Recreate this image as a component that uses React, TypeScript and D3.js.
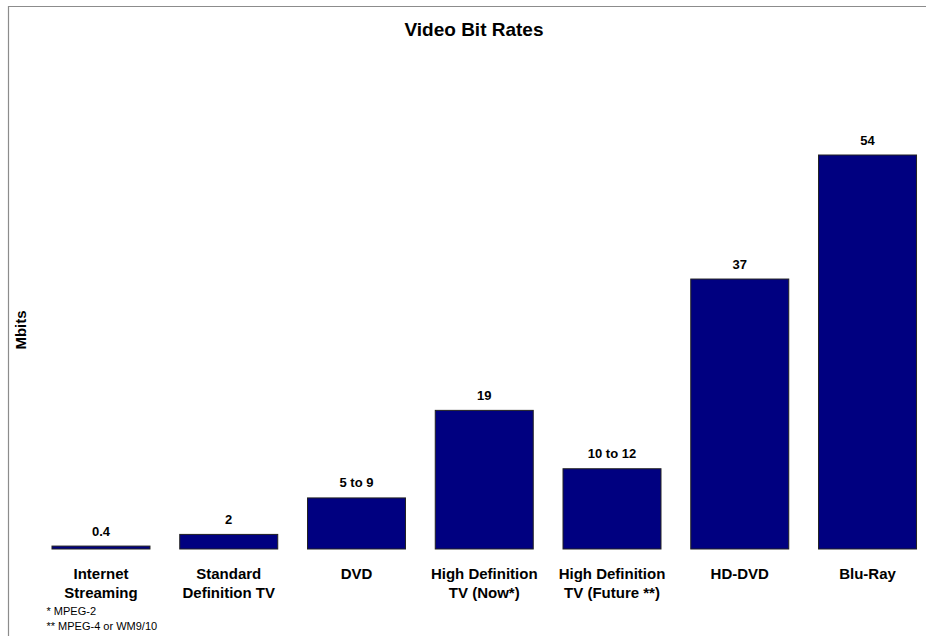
import React from "react";
import * as d3 from "d3";

const categories: string[][] = [
  ["Internet", "Streaming"],
  ["Standard", "Definition TV"],
  ["DVD"],
  ["High Definition", "TV (Now*)"],
  ["High Definition", "TV (Future **)"],
  ["HD-DVD"],
  ["Blu-Ray"],
];
const values: number[] = [0.4, 2, 7, 19, 11, 37, 54];
const valueLabels: string[] = ["0.4", "2", "5 to 9", "19", "10 to 12", "37", "54"];
const footnotes: string[] = ["* MPEG-2", "** MPEG-4 or WM9/10"];
const title = "Video Bit Rates";
const yTitle = "Mbits";

const W = 926;
const H = 636;
const FONT = "'Liberation Sans', Arial, Helvetica, sans-serif";

export default function App() {
  const ids = categories.map((_, i) => String(i));
  const x = d3
    .scaleBand<string>()
    .domain(ids)
    .range([37.3, 931.2])
    .paddingInner(0.233)
    .paddingOuter(0.115);
  const y = d3.scaleLinear().domain([0, 54]).range([549, 155]);

  return (
    <svg
      width={W}
      height={H}
      style={{ position: "absolute", left: 0, top: 0, background: "#fff" }}
      fontFamily={FONT}
    >
      <rect x={0} y={0} width={W} height={H} fill="#fff" />
      <path d={`M8.5,${H} V6.5 H${W}`} fill="none" stroke="#8c8c8c" strokeWidth={1.2} />
      <text x={474} y={36} textAnchor="middle" fontSize={19} fontWeight="bold" fill="#000">
        {title}
      </text>
      <text
        transform={`translate(26,330) rotate(-90)`}
        textAnchor="middle"
        fontSize={15}
        fontWeight="bold"
        fill="#000"
      >
        {yTitle}
      </text>
      {values.map((v, i) => {
        const bx = x(String(i))!;
        const bw = x.bandwidth();
        const top = y(v);
        return (
          <g key={i}>
            <rect
              x={bx}
              y={top}
              width={bw}
              height={y(0) - top}
              fill="#000080"
              stroke="#222"
              strokeWidth={1}
            />
            <text
              x={bx + bw / 2}
              y={top - 10.5}
              textAnchor="middle"
              fontSize={13}
              fontWeight="bold"
              fill="#000"
            >
              {valueLabels[i]}
            </text>
            {categories[i].map((line, j) => (
              <text
                key={j}
                x={bx + bw / 2}
                y={578.5 + j * 19.6}
                textAnchor="middle"
                fontSize={15}
                fontWeight="bold"
                fill="#000"
              >
                {line}
              </text>
            ))}
          </g>
        );
      })}
      {footnotes.map((f, i) => (
        <text key={i} x={46.5} y={614.5 + i * 15.5} fontSize={11} fill="#000">
          {f}
        </text>
      ))}
    </svg>
  );
}
